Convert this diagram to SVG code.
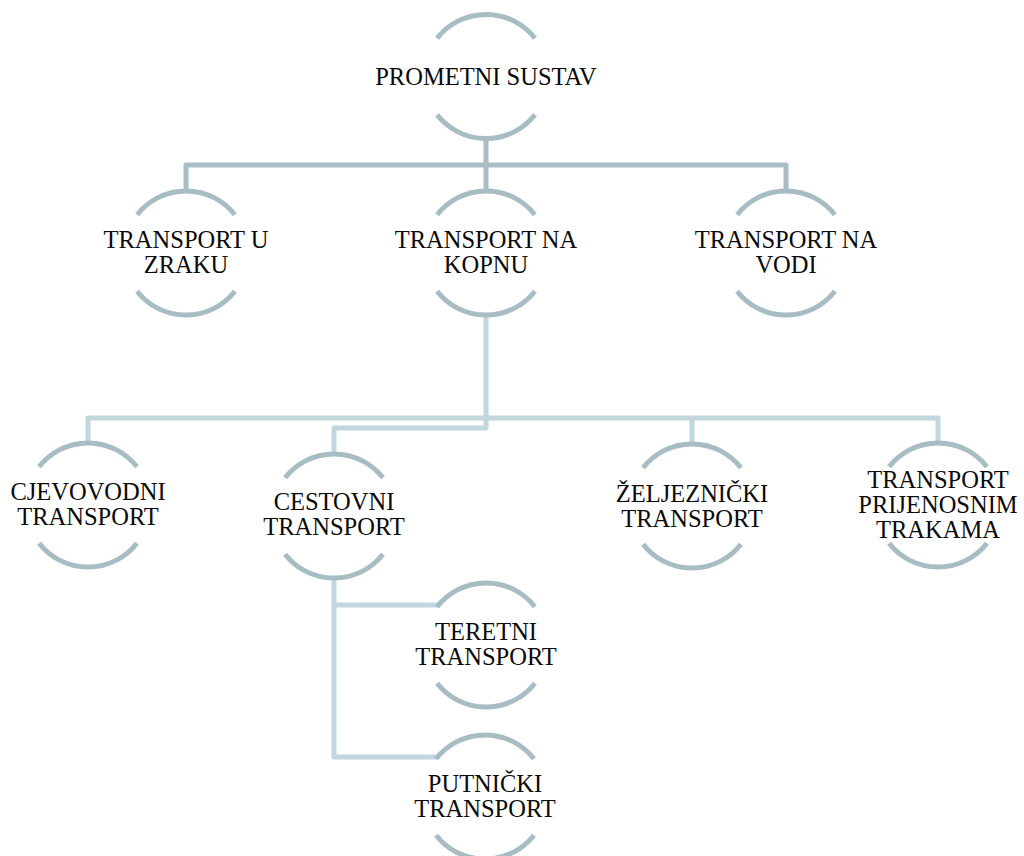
<svg xmlns="http://www.w3.org/2000/svg" xmlns:xlink="http://www.w3.org/1999/xlink" width="1024" height="856" viewBox="0 0 1024 856">
  <style>
    .arc { fill: none; stroke: #a8bcc3; stroke-width: 5; }
    .c1 { fill: none; stroke: #a9bdc4; stroke-width: 5; stroke-linejoin: round; }
    .c2 { fill: none; stroke: #bfd7dd; stroke-width: 5; stroke-linejoin: round; }
    text { font-family: "Liberation Serif", "Times New Roman", serif; font-size: 24.5px; fill: #0a0a0a; text-anchor: middle; }
  </style>
  <defs>
    <g id="ring">
      <path class="arc" d="M-48.9 -38.2 A62 62 0 0 1 48.9 -38.2"/>
      <path class="arc" d="M-48.9 38.2 A62 62 0 0 0 48.9 38.2"/>
    </g>
  </defs>
  <rect width="1024" height="856" fill="#ffffff"/>
  <g id="connectors">
    <path class="c1" d="M186 191 V165 H786 V191"/>
    <path class="c1" d="M486 138 V191"/>
    <path class="c2" d="M88 443 V418 H938 V443"/>
    <path class="c2" d="M692 418 V444"/>
    <path class="c2" d="M486 315 V428 H334 V454"/>
    <path class="c2" d="M334 578 V757 H437"/>
    <path class="c2" d="M334 605 H438"/>
  </g>
  <g id="node-prometni-sustav">
    <use xlink:href="#ring" href="#ring" x="486" y="76.5"/>
    <text x="486" y="85">PROMETNI SUSTAV</text>
  </g>
  <g id="node-transport-u-zraku">
    <use xlink:href="#ring" href="#ring" x="186" y="253"/>
    <text x="186" y="248">TRANSPORT U</text>
    <text x="186" y="273">ZRAKU</text>
  </g>
  <g id="node-transport-na-kopnu">
    <use xlink:href="#ring" href="#ring" x="486" y="253"/>
    <text x="486" y="248">TRANSPORT NA</text>
    <text x="486" y="273">KOPNU</text>
  </g>
  <g id="node-transport-na-vodi">
    <use xlink:href="#ring" href="#ring" x="786" y="253"/>
    <text x="786" y="248">TRANSPORT NA</text>
    <text x="786" y="273">VODI</text>
  </g>
  <g id="node-cjevovodni">
    <use xlink:href="#ring" href="#ring" x="88" y="505"/>
    <text x="88" y="500">CJEVOVODNI</text>
    <text x="88" y="525">TRANSPORT</text>
  </g>
  <g id="node-cestovni">
    <use xlink:href="#ring" href="#ring" x="334" y="516"/>
    <text x="334" y="510">CESTOVNI</text>
    <text x="334" y="535">TRANSPORT</text>
  </g>
  <g id="node-zeljeznicki">
    <use xlink:href="#ring" href="#ring" x="692" y="506"/>
    <text x="692" y="501.5">ŽELJEZNIČKI</text>
    <text x="692" y="526.5">TRANSPORT</text>
  </g>
  <g id="node-prijenosnim-trakama">
    <use xlink:href="#ring" href="#ring" x="938" y="505"/>
    <text x="938" y="488">TRANSPORT</text>
    <text x="938" y="513">PRIJENOSNIM</text>
    <text x="938" y="538">TRAKAMA</text>
  </g>
  <g id="node-teretni">
    <use xlink:href="#ring" href="#ring" x="486" y="645"/>
    <text x="486" y="640">TERETNI</text>
    <text x="486" y="665">TRANSPORT</text>
  </g>
  <g id="node-putnicki">
    <use xlink:href="#ring" href="#ring" x="485" y="797"/>
    <text x="485" y="792">PUTNIČKI</text>
    <text x="485" y="817">TRANSPORT</text>
  </g>
</svg>
